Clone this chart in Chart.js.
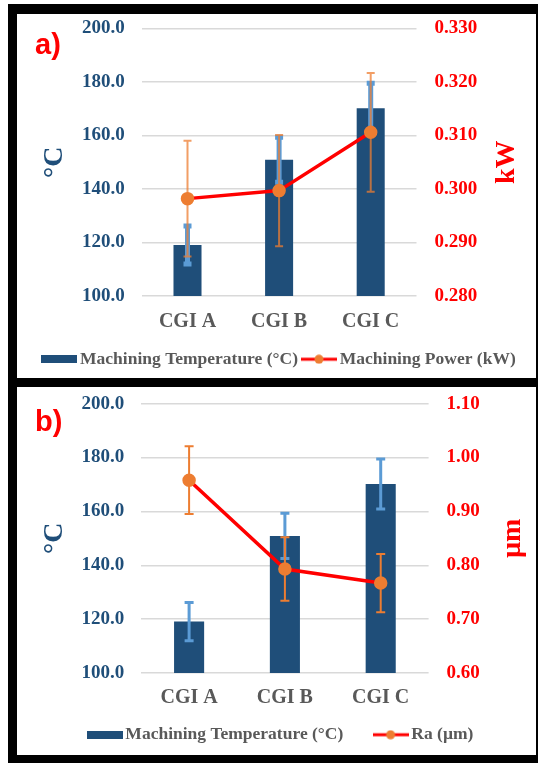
<!DOCTYPE html>
<html>
<head>
<meta charset="utf-8">
<script src="https://cdn.jsdelivr.net/npm/chart.js@4.4.0/dist/chart.umd.min.js"></script>
<style>
  body { margin: 0; background: #fff; width: 542px; height: 763px; overflow: hidden; }
  #frame { position: absolute; left: 8px; top: 4px; width: 530px; height: 759px; background: #000; }
  .panel { position: absolute; left: 9px; width: 519px; background: #fff; }
  .tag { position: absolute; left: 18px; font: bold 29px "Liberation Sans", Arial, sans-serif; color: #f00; line-height: 1; }
  canvas { position: absolute; left: 0; top: 0; }
</style>
</head>
<body>
<div id="frame">
  <div class="panel" style="top:10px;height:364px">
    <canvas id="chartA" width="519" height="364"></canvas>
    <div class="tag" style="top:16px">a)</div>
  </div>
  <div class="panel" style="top:383px;height:368px">
    <canvas id="chartB" width="519" height="368"></canvas>
    <div class="tag" style="top:20px">b)</div>
  </div>
</div>
<script>
// data
var categories = ['CGI A', 'CGI B', 'CGI C'];
var tempMean = [119.1, 150.9, 170.2];
var tempErr = [7.1, 8.4, 9.3];
var powerMean = [0.2982, 0.2997, 0.3106];
var powerErr = [0.0108, 0.0104, 0.0111];
var raMean = [0.958, 0.793, 0.767];
var raErr = [0.063, 0.059, 0.054];

var tempTicks = [100, 200, 20];
var powerTicks = [0.28, 0.33, 0.01];
var raTicks = [0.6, 1.1, 0.1];

var BLUE = '#1F4E79';
var LIGHTBLUE = '#5B9BD5';
var ORANGE = '#ED7D31';
var RED = '#FF0000';
var SERIF = '"Liberation Serif", "Times New Roman", serif';

function swatchBar() {
    var c = document.createElement('canvas');
    c.width = 36; c.height = 8;
    var x = c.getContext('2d');
    x.fillStyle = BLUE;
    x.fillRect(0, 0, 36, 8);
    return c;
}
function swatchLine() {
    var c = document.createElement('canvas');
    c.width = 36; c.height = 10;
    var x = c.getContext('2d');
    x.strokeStyle = RED; x.lineWidth = 3;
    x.beginPath(); x.moveTo(0, 5); x.lineTo(36, 5); x.stroke();
    x.fillStyle = ORANGE;
    x.beginPath(); x.arc(18, 5, 4.5, 0, Math.PI * 2); x.fill();
    return c;
}

// error bars drawn just before the line so the line and points stay on top
var errorBars = {
    id: 'errorBars',
    beforeDatasetDraw: function(chart, args, opts) {
        if (args.index !== 1) return;
        var ctx = chart.ctx;
        opts.sets.forEach(function(s) {
            var meta = chart.getDatasetMeta(s.dataset);
            var scale = chart.scales[meta.yAxisID];
            ctx.save();
            ctx.strokeStyle = s.color;
            ctx.lineWidth = s.width;
            ctx.globalAlpha = s.alpha || 1;
            meta.data.forEach(function(el, i) {
                var v = s.values[i], e = s.err[i];
                var x = el.x;
                var top = scale.getPixelForValue(v + e);
                var bot = scale.getPixelForValue(v - e);
                ctx.beginPath();
                ctx.moveTo(x, top); ctx.lineTo(x, bot);
                ctx.moveTo(x - s.cap, top); ctx.lineTo(x + s.cap, top);
                ctx.moveTo(x - s.cap, bot); ctx.lineTo(x + s.cap, bot);
                ctx.stroke();
            });
            ctx.restore();
        });
    }
};

// right axis title, read bottom-to-top like the left one
var sideTitle = {
    id: 'sideTitle',
    afterDraw: function(chart, args, o) {
        var ctx = chart.ctx, a = chart.chartArea;
        ctx.save();
        ctx.translate(o.x, (a.top + a.bottom) / 2);
        ctx.rotate(-Math.PI / 2);
        ctx.font = 'bold 28px ' + SERIF;
        ctx.fillStyle = o.color;
        ctx.textAlign = 'center';
        ctx.textBaseline = 'middle';
        ctx.fillText(o.text, 0, 0);
        ctx.restore();
    }
};

function makeChart(id, cfg) {
    return new Chart(document.getElementById(id), {
        type: 'bar',
        data: {
            labels: categories,
            datasets: [{
                label: 'Machining Temperature (\u00B0C)',
                data: tempMean,
                backgroundColor: BLUE,
                yAxisID: 'y',
                order: 2,
                categoryPercentage: 1,
                barPercentage: cfg.barPct
            }, {
                type: 'line',
                label: cfg.lineLabel,
                data: cfg.lineData,
                borderColor: RED,
                borderWidth: 3.5,
                pointBackgroundColor: ORANGE,
                pointBorderColor: ORANGE,
                pointRadius: 5,
                yAxisID: 'y1',
                order: 1
            }]
        },
        options: {
            responsive: false,
            animation: false,
            layout: { padding: cfg.pad },
            scales: {
                x: {
                    grid: { display: false, drawTicks: false },
                    border: { display: false },
                    ticks: { color: '#595959', padding: cfg.xPad, font: { family: SERIF, size: 20, weight: 'bold' } },
                    afterFit: function(s) { s.height = cfg.xH; }
                },
                y: {
                    position: 'left',
                    min: tempTicks[0], max: tempTicks[1],
                    grid: { color: '#D9D9D9', lineWidth: 1.5, drawTicks: true, tickLength: 17, tickColor: 'rgba(0,0,0,0)' },
                    border: { display: false },
                    ticks: {
                        stepSize: tempTicks[2], color: BLUE, padding: 0,
                        font: { family: SERIF, size: 19, weight: 'bold' },
                        callback: function(v) { return v.toFixed(1); }
                    },
                    title: {
                        display: true, text: '\u00B0C', color: BLUE,
                        font: { family: SERIF, size: 28, weight: 'bold' },
                        padding: { top: cfg.leftTitlePad, bottom: 0 }
                    },
                    afterFit: function(s) { s.width = cfg.leftW; }
                },
                y1: {
                    position: 'right',
                    min: cfg.rightTicks[0], max: cfg.rightTicks[1],
                    grid: { display: false, drawTicks: true, tickLength: 18 },
                    border: { display: false },
                    ticks: {
                        stepSize: cfg.rightTicks[2], color: RED, padding: 0,
                        font: { family: SERIF, size: 19, weight: 'bold' },
                        callback: function(v) { return v.toFixed(cfg.digits); }
                    },
                    afterFit: function(s) { s.width = cfg.rightW; }
                }
            },
            plugins: {
                tooltip: { enabled: false },
                legend: {
                    position: 'bottom',
                    labels: {
                        color: '#595959',
                        padding: 9,
                        usePointStyle: true,
                        pointStyleWidth: 24,
                        boxHeight: 10,
                        font: { family: SERIF, size: 17.5, weight: 'bold' },
                        sort: function(a, b) { return a.datasetIndex - b.datasetIndex; },
                        generateLabels: function(chart) {
                            var items = Chart.defaults.plugins.legend.labels.generateLabels(chart);
                            items.forEach(function(it) {
                                if (it.datasetIndex === 0) {
                                    it.pointStyle = swatchBar();
                                    it.text += cfg.legendGap;
                                } else {
                                    it.pointStyle = swatchLine();
                                }
                            });
                            return items;
                        }
                    }
                },
                errorBars: { sets: cfg.errSets },
                sideTitle: { text: cfg.rightTitle, color: RED, x: cfg.rightTitleX }
            }
        },
        plugins: [errorBars, sideTitle]
    });
}

makeChart('chartA', {
    barPct: 0.306,
    lineLabel: 'Machining Power (kW)',
    lineData: powerMean,
    rightTicks: powerTicks,
    digits: 3,
    rightTitle: 'kW',
    rightTitleX: 490,
    pad: { top: 14.5, bottom: 0, left: 10, right: 0 },
    leftW: 114.7,
    rightW: 119.5,
    xH: 45.5,
    xPad: 14,
    legendGap: '',
    leftTitlePad: 10.7,
    errSets: [
        { dataset: 0, values: tempMean, err: tempErr, color: LIGHTBLUE, width: 5, cap: 4 },
        { dataset: 1, values: powerMean, err: powerErr, color: ORANGE, width: 2, cap: 4, alpha: 0.75 }
    ]
});

makeChart('chartB', {
    barPct: 0.314,
    lineLabel: 'Ra (\u00B5m)',
    lineData: raMean,
    rightTicks: raTicks,
    digits: 2,
    rightTitle: '\u00B5m',
    rightTitleX: 495.5,
    pad: { top: 16.7, bottom: 1.5, left: 13, right: 0 },
    leftW: 111.2,
    rightW: 107.4,
    xH: 44,
    xPad: 13,
    legendGap: '\u2003\u2002',
    leftTitlePad: 7.7,
    errSets: [
        { dataset: 0, values: tempMean, err: tempErr, color: LIGHTBLUE, width: 3, cap: 4.5 },
        { dataset: 1, values: raMean, err: raErr, color: ORANGE, width: 2, cap: 4.5 }
    ]
});
</script>
</body>
</html>
